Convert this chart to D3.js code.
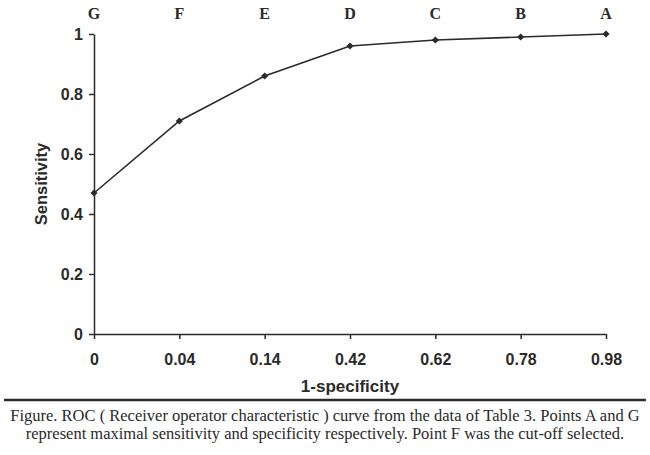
<!DOCTYPE html>
<html>
<head>
<meta charset="utf-8">
<script src="https://cdn.jsdelivr.net/npm/d3@7"></script>
<style>
  body { margin: 0; background: #fff; }
  svg { display: block; }
</style>
</head>
<body>
<div id="chart"></div>
<script>
const xLabels = ["0", "0.04", "0.14", "0.42", "0.62", "0.78", "0.98"];
const pointNames = ["G", "F", "E", "D", "C", "B", "A"];
const sensitivity = [0.47, 0.71, 0.86, 0.96, 0.98, 0.99, 1.0];
const yTicks = [0, 0.2, 0.4, 0.6, 0.8, 1];
const caption = [
    "Figure. ROC ( Receiver operator characteristic ) curve from the data of Table 3. Points A and G",
    "represent maximal sensitivity and specificity respectively. Point F was the cut-off selected."
];

const width = 650, height = 455;
const plotLeft = 94, plotRight = 606, plotTop = 34, plotBottom = 334;
const ink = "#2a2a2a";
const sans = "'Liberation Sans', Arial, sans-serif";
const serif = "'Liberation Serif', 'Times New Roman', serif";

const svg = d3.select("#chart")
    .append("svg")
    .attr("width", width)
    .attr("height", height);

const x = d3.scalePoint()
    .domain(xLabels)
    .range([plotLeft, plotRight]);

const y = d3.scaleLinear()
    .domain([0, 1])
    .range([plotBottom, plotTop]);

// y axis
const yAxis = svg.append("g")
    .attr("transform", `translate(${plotLeft},0)`)
    .call(d3.axisLeft(y).tickValues(yTicks).tickSize(5).tickSizeOuter(0).tickPadding(6)
        .tickFormat(d => d3.format("")(d)));
yAxis.select(".domain").attr("stroke", ink).attr("stroke-width", 1.5);
yAxis.selectAll(".tick line").attr("stroke", ink).attr("stroke-width", 1.5);
yAxis.selectAll(".tick text")
    .attr("fill", ink)
    .style("font-family", sans)
    .style("font-weight", "bold")
    .style("font-size", "16px");

// x axis
const xAxis = svg.append("g")
    .attr("transform", `translate(0,${plotBottom})`)
    .call(d3.axisBottom(x).tickSize(5).tickSizeOuter(0).tickPadding(15));
xAxis.select(".domain").attr("stroke", ink).attr("stroke-width", 1.5);
xAxis.selectAll(".tick line").attr("stroke", ink).attr("stroke-width", 1.5);
xAxis.selectAll(".tick text")
    .attr("fill", ink)
    .style("font-family", sans)
    .style("font-weight", "bold")
    .style("font-size", "16px");

// point letters along the top
svg.append("g")
    .selectAll("text")
    .data(pointNames)
    .join("text")
    .attr("x", (d, i) => x(xLabels[i]))
    .attr("y", 19)
    .attr("text-anchor", "middle")
    .attr("fill", ink)
    .style("font-family", serif)
    .style("font-weight", "bold")
    .style("font-size", "16px")
    .text(d => d);

// curve
const line = d3.line()
    .x((d, i) => x(xLabels[i]))
    .y(d => y(d));

svg.append("path")
    .datum(sensitivity)
    .attr("d", line)
    .attr("fill", "none")
    .attr("stroke", ink)
    .attr("stroke-width", 1.6);

svg.append("g")
    .selectAll("path")
    .data(sensitivity)
    .join("path")
    .attr("d", d3.symbol(d3.symbolSquare, 26))
    .attr("transform", (d, i) => `translate(${x(xLabels[i])},${y(d)}) rotate(45)`)
    .attr("fill", ink);

// axis titles
svg.append("text")
    .attr("transform", `translate(47,${(plotTop + plotBottom) / 2}) rotate(-90)`)
    .attr("text-anchor", "middle")
    .attr("fill", ink)
    .style("font-family", sans)
    .style("font-weight", "bold")
    .style("font-size", "16.5px")
    .text("Sensitivity");

svg.append("text")
    .attr("x", (plotLeft + plotRight) / 2)
    .attr("y", 392)
    .attr("text-anchor", "middle")
    .attr("fill", ink)
    .style("font-family", sans)
    .style("font-weight", "bold")
    .style("font-size", "17px")
    .text("1-specificity");

// rule above caption
svg.append("line")
    .attr("x1", 4).attr("x2", 646)
    .attr("y1", 400).attr("y2", 400)
    .attr("stroke", ink)
    .attr("stroke-width", 2.5);

svg.append("g")
    .selectAll("text")
    .data(caption)
    .join("text")
    .attr("x", width / 2)
    .attr("y", (d, i) => 421 + i * 18)
    .attr("text-anchor", "middle")
    .attr("fill", ink)
    .style("font-family", serif)
    .style("font-size", "16.5px")
    .text(d => d);
</script>
</body>
</html>
